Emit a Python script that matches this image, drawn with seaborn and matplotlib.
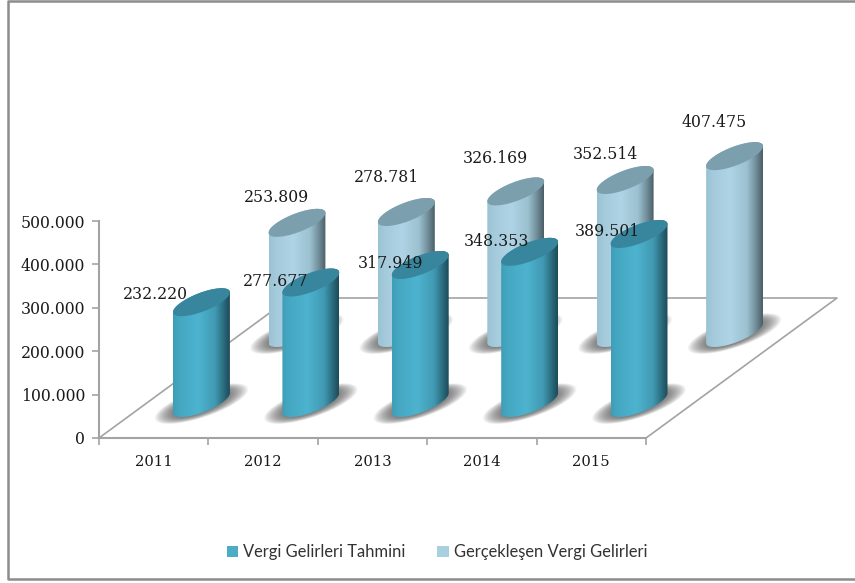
import numpy as np
import pandas as pd
import matplotlib
matplotlib.use("Agg")
import matplotlib.pyplot as plt
from matplotlib.colors import LinearSegmentedColormap
from matplotlib.lines import Line2D
from matplotlib.patches import PathPatch, Patch, Polygon
from matplotlib.path import Path
import seaborn as sns

# values
years = ["2011", "2012", "2013", "2014", "2015"]
tahmin = [232220, 277677, 317949, 348353, 389501]
gerceklesen = [253809, 278781, 326169, 352514, 407475]
tahmin_labels = ["232.220", "277.677", "317.949", "348.353", "389.501"]
gerceklesen_labels = ["253.809", "278.781", "326.169", "352.514", "407.475"]
y_ticks = [0, 100000, 200000, 300000, 400000, 500000]
y_tick_labels = ["0", "100.000", "200.000", "300.000", "400.000", "500.000"]

df = pd.DataFrame({"yil": years, "tahmin": tahmin, "gerceklesen": gerceklesen})

W, H = 855, 583
PX_X = 547 / 5          # pixels per category
PX_Y = 217 / 500000     # pixels per unit of value

sns.set_style("ticks")
serif = "DejaVu Serif"
num_size = 11.3
grey = "#a3a3a3"

fig = plt.figure(figsize=(W / 100, H / 100), dpi=100, facecolor="white")
ax = fig.add_axes([99 / W, (H - 438) / H, 547 / W, 217 / H])

# the bars give the positions, the cylinders are then built on top of them
sns.barplot(data=df, x="yil", y="gerceklesen", width=0.52, errorbar=None, ax=ax)
n = len(ax.patches)
sns.barplot(data=df, x="yil", y="tahmin", width=0.52, errorbar=None, ax=ax)
back_bars = ax.patches[:n]
front_bars = ax.patches[n:]

front_cmap = LinearSegmentedColormap.from_list("front", [
    (0, "#3f9db6"), (0.12, "#45a8c3"), (0.45, "#4db3cf"), (0.74, "#4199b2"),
    (0.88, "#2c6f82"), (1, "#1d4a58")])
back_cmap = LinearSegmentedColormap.from_list("back", [
    (0, "#9ac3d3"), (0.12, "#a4cadb"), (0.42, "#aed4e6"), (0.72, "#9cc1d0"),
    (0.87, "#73909c"), (1, "#4a5e67")])

# depth of the floor, in data units
floor_dx = 191 / PX_X
floor_dy = 140 / PX_Y
ell_c = 14 / PX_Y


def ellipse(xc, yc, a, c, t):
    return np.column_stack([xc + a * (np.cos(t) + np.sin(t)), yc + c * np.sin(t)])


def cylinder(bar, depth, cmap, top_color, z):
    half = bar.get_width() / 2
    a = half / np.sqrt(2)
    xc = bar.get_x() + half + depth * floor_dx
    y0 = depth * floor_dy
    y1 = y0 + bar.get_height()

    # soft shadow under the base
    t = np.linspace(0, 2 * np.pi, 80)
    for s in np.linspace(1.65, 0.95, 28):
        ax.add_patch(Polygon(ellipse(xc, y0 - 1500, a * s, ell_c * (1 + (s - 1) * 0.7), t), closed=True,
                             fc="#505050", ec="none", alpha=0.04, clip_on=False, zorder=z))

    low = ellipse(xc, y0, a, ell_c, np.linspace(np.radians(225), np.radians(405), 60))
    up = ellipse(xc, y1, a, ell_c, np.linspace(np.radians(45), np.radians(225), 60))
    verts = np.vstack([low, up, low[:1]])
    body = PathPatch(Path(verts), fc="none", ec="none", transform=ax.transData)
    ax.add_patch(body)
    body.set_clip_on(False)
    body.set_zorder(z + 0.1)
    im = ax.imshow(np.linspace(0, 1, 256)[None, :], extent=(xc - half, xc + half, y0 - ell_c, y1 + ell_c),
                   cmap=cmap, aspect="auto", zorder=z + 0.2, interpolation="bilinear")
    im.set_clip_box(fig.bbox)
    im.set_clip_path(body)

    t = np.linspace(0, 2 * np.pi, 120)
    ax.add_patch(Polygon(ellipse(xc, y1, a, ell_c, t), closed=True, fc=top_color, ec="none",
                         clip_on=False, zorder=z + 0.3))
    return xc, y1


# label offsets from the top of each cylinder, in pixels
back_offsets = [(-20, -25), (-20, -35), (-20, -33), (-20, -26), (-20, -34)]
front_offsets = [(-46, -8), (-35, -1), (-30, -2), (-33, -10), (-32, -2)]

for bars, depth, cmap, top, z, labels, offs in [
    (back_bars, 0.75, back_cmap, "#7b9fad", 2, gerceklesen_labels, back_offsets),
    (front_bars, 0.25, front_cmap, "#37869d", 4, tahmin_labels, front_offsets),
]:
    for bar, lab, off in zip(bars, labels, offs):
        bar.set_visible(False)
        xc, y1 = cylinder(bar, depth, cmap, top, z)
        ax.annotate(lab, (xc, y1), xytext=(off[0] * 0.72, -off[1] * 0.72), textcoords="offset points",
                    ha="center", va="center", fontsize=num_size, family=serif, color="#1a1a1a",
                    annotation_clip=False, zorder=8)

# floor outline
x0, x1 = -0.5, 4.5
ax.plot([x0, x0 + floor_dx, x1 + floor_dx, x1], [0, floor_dy, floor_dy, 0], color=grey, lw=1.2,
        clip_on=False, zorder=1)

ax.set_xlim(x0, x1)
ax.set_ylim(0, 500000)
ax.set_xlabel("")
ax.set_ylabel("")
ax.set_yticks(y_ticks, labels=y_tick_labels, family=serif, fontsize=num_size, color="#1a1a1a")
ax.set_xticks(np.arange(x0, x1 + 0.5), labels=[""] * 6)
ax.set_xticks(range(5), labels=years, minor=True, family=serif, fontsize=10.6, color="#1a1a1a")
ax.tick_params(axis="x", which="major", length=5, width=1.2, color=grey)
ax.tick_params(axis="x", which="minor", length=0, pad=12)
ax.tick_params(axis="y", length=5, width=1.2, color=grey, pad=5)
ax.patch.set_alpha(0)
sns.despine(ax=ax)
for side in ["left", "bottom"]:
    ax.spines[side].set_color(grey)
    ax.spines[side].set_linewidth(1.5)

handles = [Patch(fc="#4bacc6", ec="none", label="Vergi Gelirleri Tahmini"),
           Patch(fc="#a9d0e0", ec="none", label="Gerçekleşen Vergi Gelirleri")]
fig.legend(handles=handles, loc="center", bbox_to_anchor=(437 / W, 1 - 552 / H), ncol=2, frameon=False,
           prop={"family": "Lato", "size": 11.9}, labelcolor="#333333", handlelength=0.67, handleheight=0.67,
           handletextpad=0.3, columnspacing=1.94)

# chart frame, open on the right
fig.add_artist(Line2D([1, 8 / W, 8 / W, 1], [1 - 0.5 / H, 1 - 0.5 / H, 1 - 579 / H, 1 - 579 / H],
                      transform=fig.transFigure, color="#8c8c8c", lw=1.8))

fig.savefig("out.png", dpi=100)
